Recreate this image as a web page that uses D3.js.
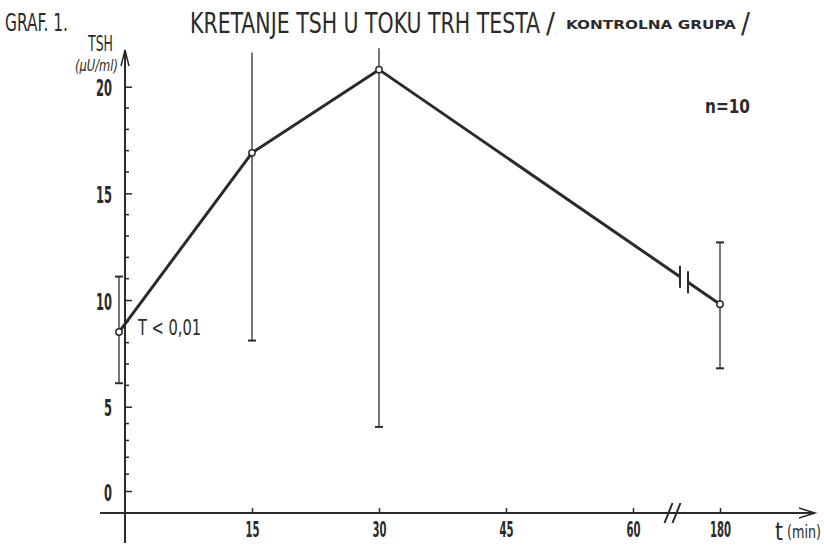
<!DOCTYPE html>
<html lang="sr">
<head>
    <meta charset="UTF-8">
    <title>Graf 1 - TSH</title>
    <script src="https://d3js.org/d3.v7.min.js"></script>
    <style>
        body { margin: 0; background: white; }
        text { font-family: "DejaVu Sans Condensed", "Liberation Sans Narrow", sans-serif; fill: #2b2b2b; }
    </style>
</head>
<body>
<svg id="main" width="824" height="545"></svg>
<script>
    // data
    let times = [0, 15, 30, 180];          // min
    let tshMean = [8.5, 16.9, 20.8, 9.8];  // mU/ml
    let tshUpper = [11.1, 21.6, 21.8, 12.7];
    let tshLower = [6.1, 8.1, 3.8, 6.8];
    let xTicks = [15, 30, 45, 60, 180];
    let yTicks = [0, 5, 10, 15, 20];
    let yMinor = d3.range(1, 20).filter(function (d){return d % 5 != 0});

    let svg = d3.select('svg#main');
    let ink = '#2b2b2b';
    let axisX = 125, axisY = 513;   // where the hand drawn axes sit

    // the drawing is not quite even, so scales are piecewise
    let x = d3.scaleLinear().domain([0, 15, 60, 180]).range([119, 252, 633, 720]);
    let y = d3.scaleLinear().domain([0, 5, 20]).range([491, 406.7, 86.7]);

    // squeeze text sideways to a given width (hand lettering is tall and narrow)
    function squeeze(sel, w){
        sel.each(function (d){
            let t = d3.select(this);
            let target = (typeof w === 'function') ? w(d) : w;
            let s = target / this.getComputedTextLength();
            let x0 = +t.attr('x') || 0, y0 = +t.attr('y') || 0;
            t.attr('x', 0).attr('y', 0)
                .attr('transform', 'translate(' + x0 + ',' + y0 + ') scale(' + s + ',1)');
        });
    }
    function label(px, py, size, str){
        return svg.append('text').attr('x', px).attr('y', py).attr('font-size', size).text(str);
    }

    // titles
    label(5, 31, 24, 'GRAF. 1.').call(squeeze, 63);
    label(190, 33, 28, 'KRETANJE TSH U TOKU TRH TESTA').call(squeeze, 350);
    label(546, 33, 28, '/').call(squeeze, 9);
    label(566, 29, 12.5, 'KONTROLNA GRUPA').attr('font-weight', 'bold').call(squeeze, 170);
    label(741, 33, 28, '/').call(squeeze, 9);

    // y axis
    let yAxis = svg.append('g')
        .attr('transform', 'translate(' + axisX + ',0)')
        .call(d3.axisLeft(y).tickValues(yTicks).tickSizeInner(-7).tickSizeOuter(0).tickPadding(13));
    yAxis.select('.domain').remove();
    yAxis.selectAll('line').attr('stroke', ink).attr('stroke-width', 1.5);
    yAxis.selectAll('text').attr('font-size', 23).attr('font-weight', 'bold')
        .attr('font-family', null).style('fill', ink)
        .attr('dy', '0.4em')
        .call(squeeze, function (d){return String(d).length * 8});
    yAxis.selectAll('line.minor').data(yMinor).enter().append('line')
        .attr('class', 'minor')
        .attr('x1', 0).attr('x2', 4)
        .attr('y1', function (d){return y(d)}).attr('y2', function (d){return y(d)})
        .attr('stroke', ink).attr('stroke-width', 1.5);
    svg.append('line').attr('x1', axisX).attr('x2', axisX).attr('y1', 543).attr('y2', 50)
        .attr('stroke', ink).attr('stroke-width', 2);
    svg.append('path').attr('d', 'M' + (axisX - 4) + ',66 L' + axisX + ',50 L' + (axisX + 4) + ',66')
        .attr('fill', 'none').attr('stroke', ink).attr('stroke-width', 1.5);
    label(88, 51, 22, 'TSH').call(squeeze, 25);
    label(75, 71, 15, '(µU/ml)').attr('font-style', 'italic').call(squeeze, 43);

    // x axis
    let xAxis = svg.append('g')
        .attr('transform', 'translate(0,' + axisY + ')')
        .call(d3.axisBottom(x).tickValues(xTicks).tickSizeInner(-5).tickSizeOuter(0).tickPadding(9));
    xAxis.select('.domain').remove();
    xAxis.selectAll('line').attr('stroke', ink).attr('stroke-width', 1.5);
    xAxis.selectAll('text').attr('font-size', 21).attr('font-weight', 'bold')
        .attr('font-family', null).style('fill', ink)
        .call(squeeze, function (d){return String(d).length * 7});
    svg.append('line').attr('x1', 100).attr('x2', 815).attr('y1', axisY).attr('y2', axisY)
        .attr('stroke', ink).attr('stroke-width', 2);
    svg.append('path').attr('d', 'M799,' + (axisY - 5) + ' L815,' + axisY + ' L799,' + (axisY + 5))
        .attr('fill', 'none').attr('stroke', ink).attr('stroke-width', 1.5);
    // axis break //
    let brk = (x(60) + x(180)) / 2 - 8;
    [0, 8].forEach(function (o){
        svg.append('line')
            .attr('x1', brk + o - 4).attr('y1', axisY + 10)
            .attr('x2', brk + o + 4).attr('y2', axisY - 10)
            .attr('stroke', ink).attr('stroke-width', 2);
    });
    label(775, 540, 25, 't').call(squeeze, 8);
    label(787, 538, 18, '(min)').call(squeeze, 34);

    // error bars
    let bars = svg.append('g');
    times.forEach(function (t, i){
        let cx = x(t);
        bars.append('line').attr('x1', cx).attr('x2', cx)
            .attr('y1', y(tshUpper[i])).attr('y2', y(tshLower[i]))
            .attr('stroke', '#555').attr('stroke-width', 1.6);
        let caps = [tshLower[i]];
        if (tshUpper[i] < 21) caps.push(tshUpper[i]);   // the tall ones run off the top, no cap
        caps.forEach(function (v){
            bars.append('line').attr('x1', cx - 4).attr('x2', cx + 4)
                .attr('y1', y(v)).attr('y2', y(v))
                .attr('stroke', ink).attr('stroke-width', 2);
        });
    });

    // mean line, with a gap where the time axis is broken
    let line = d3.line()
        .x(function (d){return x(d[0])})
        .y(function (d){return y(d[1])});
    let pts = times.map(function (t, i){return [t, tshMean[i]]});
    let gapA = 680, gapB = 688;
    let a = pts[2], b = pts[3];
    let frac = function (px){return (px - x(a[0])) / (x(b[0]) - x(a[0]))};
    let tA = x.invert(gapA), tB = x.invert(gapB);
    let vA = a[1] + (b[1] - a[1]) * frac(gapA), vB = a[1] + (b[1] - a[1]) * frac(gapB);
    svg.append('path').datum([pts[0], pts[1], pts[2], [tA, vA]]).attr('d', line)
        .attr('fill', 'none').attr('stroke', ink).attr('stroke-width', 3).attr('stroke-linejoin', 'round');
    svg.append('path').datum([[tB, vB], pts[3]]).attr('d', line)
        .attr('fill', 'none').attr('stroke', ink).attr('stroke-width', 3);
    [[tA, vA], [tB, vB]].forEach(function (p){
        svg.append('line').attr('x1', x(p[0])).attr('x2', x(p[0]))
            .attr('y1', y(p[1]) - 11).attr('y2', y(p[1]) + 11)
            .attr('stroke', ink).attr('stroke-width', 2);
    });

    svg.selectAll('circle.pt').data(pts).enter().append('circle')
        .attr('class', 'pt')
        .attr('cx', function (d){return x(d[0])}).attr('cy', function (d){return y(d[1])})
        .attr('r', 3.2).attr('fill', 'white').attr('stroke', ink).attr('stroke-width', 1.5);

    // notes
    label(138, 335, 21, 'T < 0,01').call(squeeze, 63);
    label(705, 113, 20, 'n=10').attr('font-weight', 'bold').call(squeeze, 45);
</script>
</body>
</html>
